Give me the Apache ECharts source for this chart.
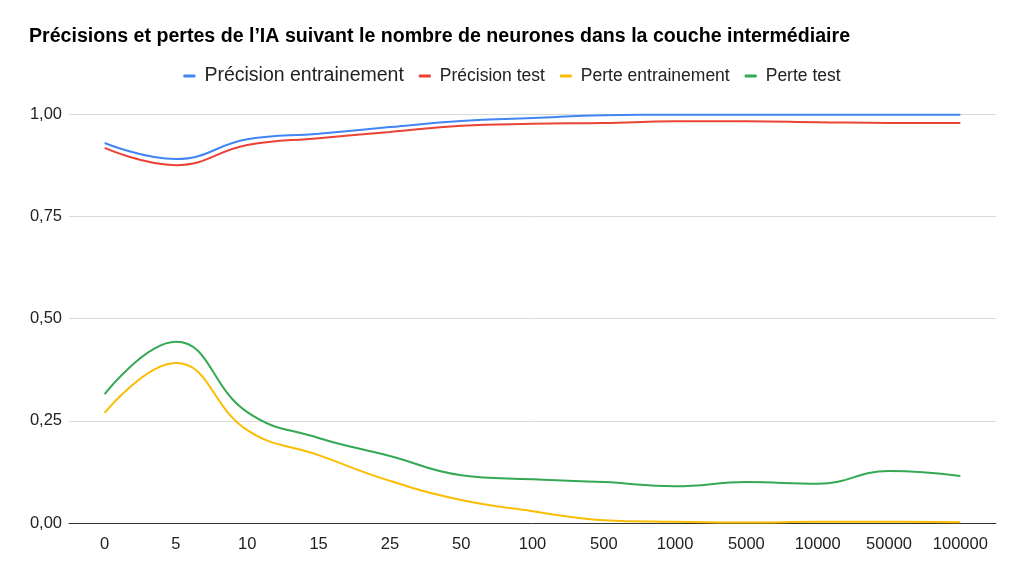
<!DOCTYPE html>
<html><head><meta charset="utf-8">
<script src="https://cdn.jsdelivr.net/npm/echarts@6/dist/echarts.min.js"></script>
<style>html,body{margin:0;padding:0;background:#fff}#c{width:1024px;height:575px}</style>
</head><body><div id="c"></div>
<script>
const categories = ['0','5','10','15','25','50','100','500','1000','5000','10000','50000','100000'];
const precisionEntrainement = [0.929,0.890,0.938,0.952,0.968,0.983,0.990,0.997,0.998,0.998,0.998,0.998,0.998];
const precisionTest = [0.917,0.875,0.924,0.941,0.956,0.971,0.976,0.978,0.982,0.982,0.980,0.978,0.978];
const perteEntrainement = [0.269,0.391,0.227,0.166,0.103,0.056,0.029,0.007,0.003,0.001,0.003,0.003,0.002];
const perteTest = [0.315,0.443,0.271,0.208,0.164,0.117,0.107,0.100,0.090,0.100,0.096,0.127,0.115];
const seriesNames = ['Précision entrainement','Précision test','Perte entrainement','Perte test'];
const colors = ['#4285f4','#ea4335','#fbbc04','#34a853'];

const chart = echarts.init(document.getElementById('c'));
const font = 'Arial, "Liberation Sans", sans-serif';
chart.setOption({
  animation:false,
  textStyle:{fontFamily:font},
  title:{text:'Précisions et pertes de l’IA suivant le nombre de neurones dans la couche intermédiaire',
    left:24, top:22, textStyle:{fontFamily:font,fontSize:19.6,fontWeight:'bold',color:'#000'}},
  legend:{top:61, left:'center', itemWidth:12, itemHeight:3, icon:'roundRect', itemGap:15,
    data:seriesNames,
    formatter:n=> n===seriesNames[0] ? '{big|'+n+'}' : n,
    textStyle:{fontFamily:font,fontSize:17.5,color:'#222',padding:[0,0,0,4],
      rich:{big:{fontSize:19.5,color:'#222',fontFamily:font}}}},
  grid:{left:69, right:28, top:114, bottom:52},
  xAxis:{type:'category', data:categories, boundaryGap:true,
    axisLine:{lineStyle:{color:'#333',width:1}}, axisTick:{show:false},
    axisLabel:{fontSize:16.5,color:'#222',margin:13,interval:0,fontFamily:font}},
  yAxis:{type:'value', min:0, max:1, interval:0.25,
    axisLabel:{fontSize:16.5,color:'#222',margin:7,fontFamily:font,formatter:v=>v.toFixed(2).replace('.',',')},
    splitLine:{lineStyle:{color:'#d9d9d9'}}, axisLine:{show:false}, axisTick:{show:false}},
  series:[precisionEntrainement,precisionTest,perteEntrainement,perteTest].map((d,i)=>({
    name:seriesNames[i], type:'line', data:d, smooth:0.45, showSymbol:false, symbol:'none',
    lineStyle:{width:2,color:colors[i]}, itemStyle:{color:colors[i]}
  }))
});
</script></body></html>
